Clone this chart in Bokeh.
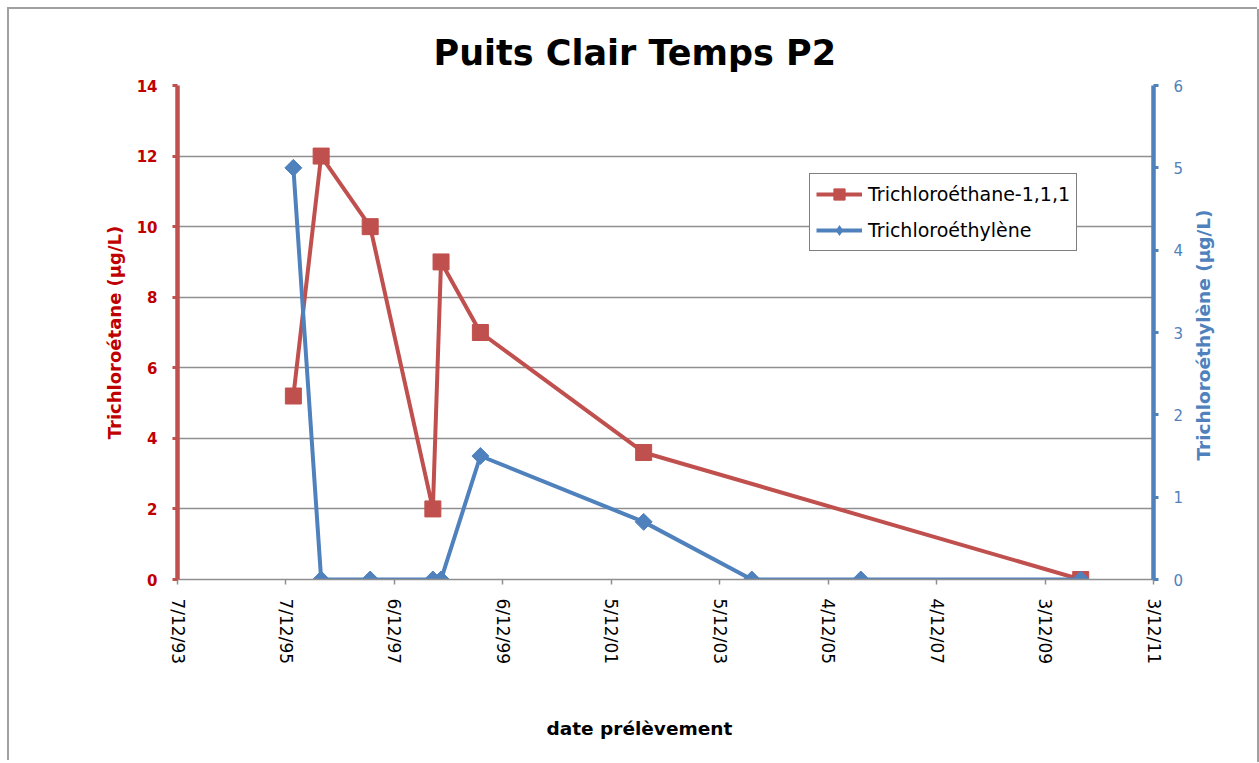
import math
from datetime import datetime
import pandas as pd
from bokeh.plotting import figure
from bokeh.models import (Range1d, LinearAxis, FixedTicker, Legend,
                          LegendItem, ColumnDataSource, Title)
from bokeh.embed import file_html
from bokeh.resources import INLINE

# ---------------- data ----------------
title_text = "Puits Clair Temps P2"
x_title = "date prélèvement"
y_left_title = "Trichloroétane (µg/L)"
y_right_title = "Trichloroéthylène (µg/L)"

x_tick_labels = ["7/12/93", "7/12/95", "6/12/97", "6/12/99", "5/12/01",
                 "5/12/03", "4/12/05", "4/12/07", "3/12/09", "3/12/11"]
y_left_ticks = [0, 2, 4, 6, 8, 10, 12, 14]
y_right_ticks = [0, 1, 2, 3, 4, 5, 6]

tca_name = "Trichloroéthane-1,1,1"
tca_dates = ["1996-01-26", "1996-07-31", "1997-06-26", "1998-08-22",
             "1998-10-16", "1999-07-08", "2002-07-11", "2010-07-31"]
tca_values = [5.2, 12, 10, 2, 9, 7, 3.6, 0]

tce_name = "Trichloroéthylène"
tce_dates = ["1996-01-26", "1996-07-31", "1997-06-26", "1998-08-22",
             "1998-10-16", "1999-07-08", "2002-07-11", "2004-07-08",
             "2006-07-12", "2010-07-31"]
tce_values = [5, 0, 0, 0, 0, 1.5, 0.7, 0, 0, 0]

# where the (upward-reading) right axis title starts, in right-axis units
right_title_start = 1.445

# ---------------- styles ----------------
RED = "#C0504D"
DARK_RED = "#C00000"
BLUE = "#4F81BD"
GRID = "#8f8f8f"
FONT = "DejaVu Sans"

epoch = datetime(1970, 1, 1)


def to_ms(d):
    return int((d - epoch).total_seconds() * 1000)


x_ticks = [to_ms(datetime.strptime(s, "%d/%m/%y")) for s in x_tick_labels]

p = figure(width=1248, height=753, x_axis_type="datetime",
           x_range=Range1d(x_ticks[0], x_ticks[-1]),
           y_range=Range1d(y_left_ticks[0], y_left_ticks[-1]),
           output_backend="svg", toolbar_location=None,
           min_border_left=168, min_border_right=104,
           min_border_top=76, min_border_bottom=183)
p.outline_line_color = None
p.background_fill_color = "white"
p.border_fill_color = "white"
p.styles = {"margin-left": "9px", "margin-top": "9px",
            "box-shadow": "2px 0 0 0 #a0a0a0, -2px -2px 0 0 #a0a0a0, 0 -2px 0 0 #a0a0a0"}

p.extra_y_ranges = {"tce": Range1d(y_right_ticks[0], y_right_ticks[-1])}

# grid
p.xgrid.visible = False
p.ygrid.ticker = FixedTicker(ticks=y_left_ticks)
p.ygrid.grid_line_color = GRID
p.ygrid.grid_line_width = 1.5

# x axis
xa = p.xaxis[0]
xa.ticker = FixedTicker(ticks=x_ticks)
xa.major_label_overrides = dict(zip(x_ticks, x_tick_labels))
xa.major_label_orientation = -math.pi / 2
xa.major_label_text_font = FONT
xa.major_label_text_font_size = "17px"
xa.major_label_text_color = "black"
xa.major_label_standoff = 14
xa.axis_line_color = GRID
xa.axis_line_width = 1.5
xa.major_tick_line_color = GRID
xa.major_tick_line_width = 1.5
xa.major_tick_out = 5
xa.major_tick_in = 0
xa.minor_tick_line_color = None
# spacer so that the x title sits lower
xa.axis_label = " "
xa.axis_label_text_font_size = "1px"
xa.axis_label_standoff = 41

# left axis
ya = p.yaxis[0]
ya.ticker = FixedTicker(ticks=y_left_ticks)
ya.axis_label = y_left_title
ya.axis_label_text_font = FONT
ya.axis_label_text_font_style = "bold"
ya.axis_label_text_font_size = "18px"
ya.axis_label_text_color = DARK_RED
ya.axis_label_standoff = 9
ya.major_label_text_font = FONT
ya.major_label_text_font_style = "bold"
ya.major_label_text_font_size = "15px"
ya.major_label_text_color = DARK_RED
ya.major_label_standoff = 15
ya.axis_line_color = RED
ya.axis_line_width = 4.5
ya.major_tick_line_color = RED
ya.major_tick_line_width = 3
ya.major_tick_out = 5
ya.major_tick_in = 0
ya.minor_tick_line_color = None

# right axis
yr = LinearAxis(y_range_name="tce", ticker=FixedTicker(ticks=y_right_ticks))
yr.major_label_text_font = FONT
yr.major_label_text_font_size = "15px"
yr.major_label_text_color = BLUE
yr.major_label_standoff = 15
yr.axis_line_color = BLUE
yr.axis_line_width = 4.5
yr.major_tick_line_color = BLUE
yr.major_tick_line_width = 3
yr.major_tick_out = 5
yr.major_tick_in = 0
yr.minor_tick_line_color = None
p.add_layout(yr, "right")

# right axis title, reading bottom-to-top (drawn as a single rotated label)
yr_title = LinearAxis(y_range_name="tce",
                      ticker=FixedTicker(ticks=[right_title_start]),
                      major_label_overrides={right_title_start: y_right_title})
yr_title.major_label_orientation = math.pi / 2
yr_title.major_label_text_font = FONT
yr_title.major_label_text_font_style = "bold"
yr_title.major_label_text_font_size = "18.5px"
yr_title.major_label_text_color = BLUE
yr_title.major_label_standoff = 17
yr_title.axis_line_color = None
yr_title.major_tick_line_color = None
yr_title.major_tick_out = 0
yr_title.major_tick_in = 0
yr_title.minor_tick_line_color = None
p.add_layout(yr_title, "right")

# series
src_tca = ColumnDataSource(dict(x=pd.to_datetime(tca_dates), y=tca_values))
src_tce = ColumnDataSource(dict(x=pd.to_datetime(tce_dates), y=tce_values))

tca_line = p.line("x", "y", source=src_tca, line_color=RED, line_width=4)
tca_pts = p.scatter("x", "y", source=src_tca, marker="square", size=16,
                    fill_color=RED, line_color=RED)

tce_line = p.line("x", "y", source=src_tce, line_color=BLUE, line_width=4,
                  y_range_name="tce")
tce_pts = p.scatter("x", "y", source=src_tce, marker="square", angle=math.pi / 4,
                    size=12, fill_color=BLUE, line_color=BLUE, y_range_name="tce")
# zero-size diamonds: only their legend swatch is visible
tce_leg = p.scatter("x", "y", source=src_tce, marker="diamond", size=0,
                    fill_color=BLUE, line_color=None, y_range_name="tce")

legend = Legend(items=[LegendItem(label=tca_name, renderers=[tca_line, tca_pts]),
                       LegendItem(label=tce_name, renderers=[tce_line, tce_leg])],
                location=(632, 328))
legend.border_line_color = "black"
legend.border_line_width = 1
legend.background_fill_color = "white"
legend.background_fill_alpha = 1
legend.label_text_font = FONT
legend.label_text_font_size = "19px"
legend.label_text_color = "black"
legend.glyph_width = 46
legend.glyph_height = 28
legend.label_height = 26
legend.label_standoff = 6
legend.spacing = 8
legend.padding = 6
legend.margin = 0
p.add_layout(legend)

# chart title (above) and x-axis title (below)
p.add_layout(Title(text=title_text, align="left", offset=256,
                   vertical_align="bottom", standoff=26,
                   text_font=FONT, text_font_style="bold",
                   text_font_size="35px", text_color="black"), "above")
p.add_layout(Title(text=x_title, align="left", offset=369,
                   vertical_align="top", standoff=10,
                   text_font=FONT, text_font_style="bold",
                   text_font_size="18.5px", text_color="black"), "below")

open("out.html", "w").write(file_html(p, INLINE))
